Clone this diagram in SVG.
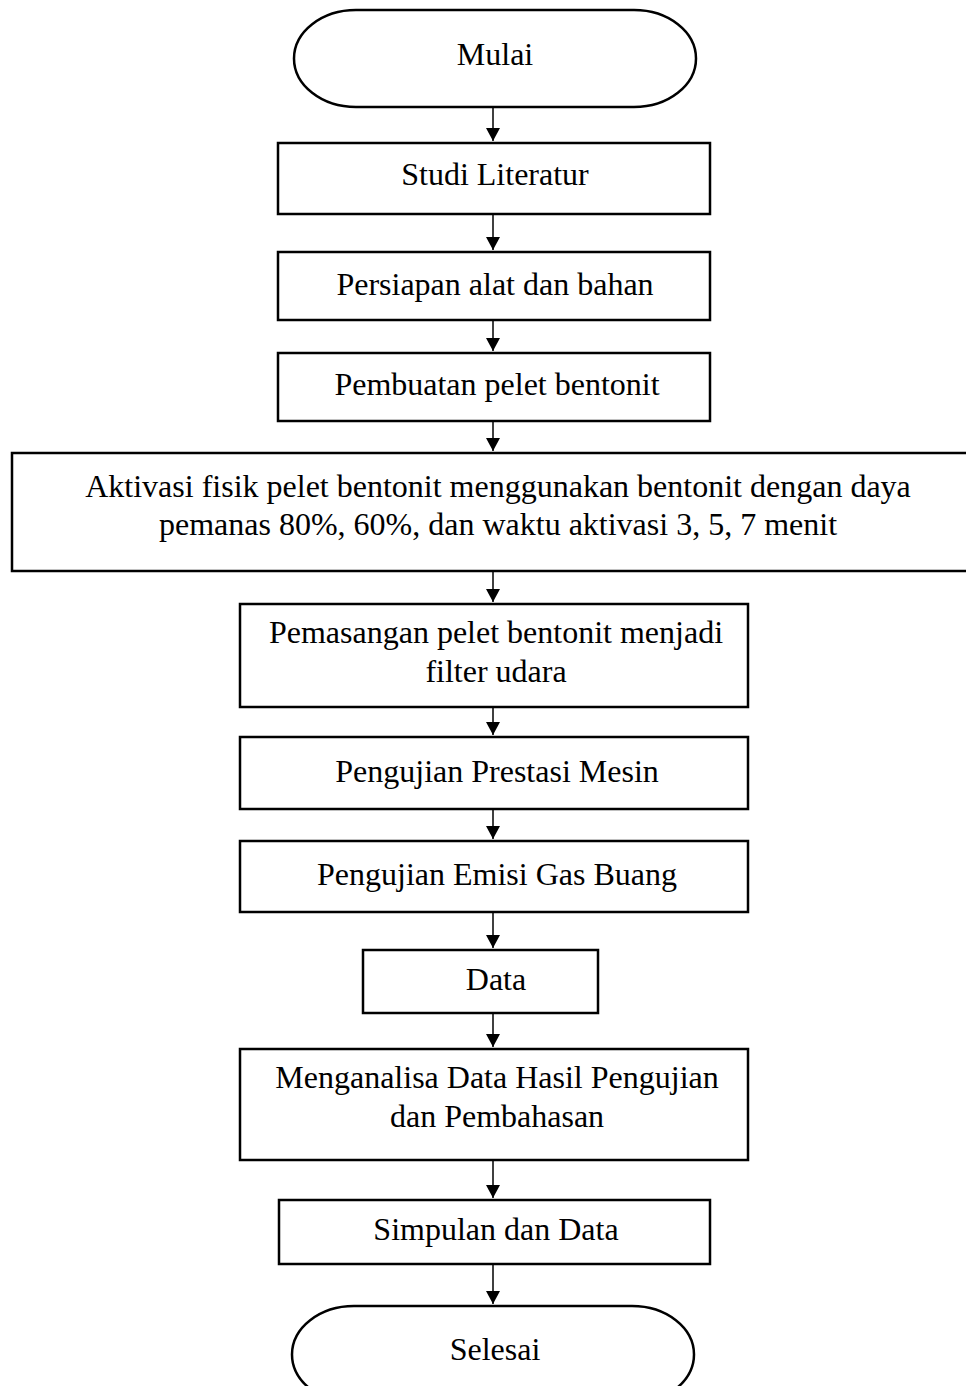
<svg xmlns="http://www.w3.org/2000/svg" width="966" height="1386" viewBox="0 0 966 1386">
<defs>
<style>
.box{fill:#fff;stroke:#000;stroke-width:2.5}
.t{font-family:"Liberation Serif","Times New Roman",serif;font-size:32px;fill:#000;text-anchor:middle}
.c{stroke:#000;stroke-width:1.5;fill:none}
</style>
<marker id="ah" viewBox="0 0 13 14" refX="13" refY="7" markerWidth="13" markerHeight="14" markerUnits="userSpaceOnUse" orient="auto">
<path d="M0,0 L13,7 L0,14 Z" fill="#000"/>
</marker>
</defs>
<rect width="966" height="1386" fill="#fff"/>
<g id="connectors">
<line class="c" x1="493" y1="107" x2="493" y2="141" marker-end="url(#ah)"/>
<line class="c" x1="493" y1="214" x2="493" y2="250" marker-end="url(#ah)"/>
<line class="c" x1="493" y1="320" x2="493" y2="351" marker-end="url(#ah)"/>
<line class="c" x1="493" y1="421" x2="493" y2="451" marker-end="url(#ah)"/>
<line class="c" x1="493" y1="571" x2="493" y2="602" marker-end="url(#ah)"/>
<line class="c" x1="493" y1="707" x2="493" y2="735" marker-end="url(#ah)"/>
<line class="c" x1="493" y1="809" x2="493" y2="839" marker-end="url(#ah)"/>
<line class="c" x1="493" y1="912" x2="493" y2="948" marker-end="url(#ah)"/>
<line class="c" x1="493" y1="1013" x2="493" y2="1047" marker-end="url(#ah)"/>
<line class="c" x1="493" y1="1160" x2="493" y2="1198" marker-end="url(#ah)"/>
<line class="c" x1="493" y1="1264" x2="493" y2="1304" marker-end="url(#ah)"/>
</g>
<g id="mulai">
<rect class="box" x="294" y="10" width="402" height="97" rx="62" ry="48.5"/>
<text class="t" x="495" y="65">Mulai</text>
</g>
<g id="studi">
<rect class="box" x="278" y="143" width="432" height="71"/>
<text class="t" x="495" y="185">Studi Literatur</text>
</g>
<g id="persiapan">
<rect class="box" x="278" y="252" width="432" height="68"/>
<text class="t" x="495" y="295">Persiapan alat dan bahan</text>
</g>
<g id="pembuatan">
<rect class="box" x="278" y="353" width="432" height="68"/>
<text class="t" x="497" y="395">Pembuatan pelet bentonit</text>
</g>
<g id="aktivasi">
<rect class="box" x="12" y="453" width="960" height="118"/>
<text class="t" x="498" y="497">Aktivasi fisik pelet bentonit menggunakan bentonit dengan daya</text>
<text class="t" x="498" y="535">pemanas 80%, 60%, dan waktu aktivasi 3, 5, 7 menit</text>
</g>
<g id="pemasangan">
<rect class="box" x="240" y="604" width="508" height="103"/>
<text class="t" x="496" y="643">Pemasangan pelet bentonit menjadi</text>
<text class="t" x="496" y="682">filter udara</text>
</g>
<g id="prestasi">
<rect class="box" x="240" y="737" width="508" height="72"/>
<text class="t" x="497" y="782">Pengujian Prestasi Mesin</text>
</g>
<g id="emisi">
<rect class="box" x="240" y="841" width="508" height="71"/>
<text class="t" x="497" y="885">Pengujian Emisi Gas Buang</text>
</g>
<g id="data">
<rect class="box" x="363" y="950" width="235" height="63"/>
<text class="t" x="496" y="990">Data</text>
</g>
<g id="analisa">
<rect class="box" x="240" y="1049" width="508" height="111"/>
<text class="t" x="497" y="1088">Menganalisa Data Hasil Pengujian</text>
<text class="t" x="497" y="1127">dan Pembahasan</text>
</g>
<g id="simpulan">
<rect class="box" x="279" y="1200" width="431" height="64"/>
<text class="t" x="496" y="1240">Simpulan dan Data</text>
</g>
<g id="selesai">
<rect class="box" x="292" y="1306" width="402" height="97" rx="62" ry="48.5"/>
<text class="t" x="495" y="1360">Selesai</text>
</g>
</svg>
